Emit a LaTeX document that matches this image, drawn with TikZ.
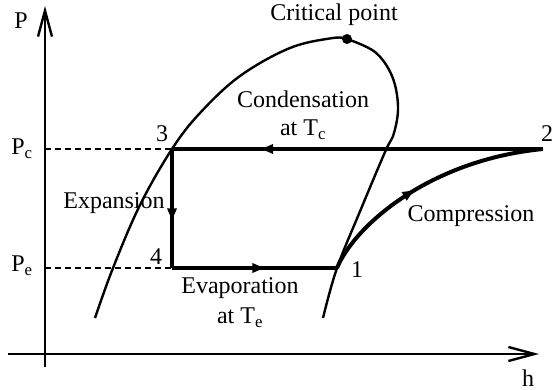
\documentclass[tikz,border=0pt]{standalone}
\usepackage{fontspec}
\setmainfont{Liberation Serif}
\usetikzlibrary{arrows.meta,decorations.markings}
\begin{document}
\begin{tikzpicture}[x=1pt,y=-1pt,
  lbl/.style={font=\fontsize{24}{26}\selectfont, inner sep=0pt},
  axis/.style={line width=2.4pt, -{Straight Barb[length=26pt,width=14pt,line width=2.4pt]}},
  dome/.style={line width=2.4pt},
  cyc/.style={line width=4pt},
  midarrow/.style={postaction={decorate,decoration={markings,
      mark=at position #1 with {\arrow{Triangle[length=12pt,width=9pt]}}}}},
  guide/.style={line width=1.4pt, dash pattern=on 6pt off 4pt}]
\useasboundingbox (0,0) rectangle (552,390);
% axes
\coordinate (xs) at (8,354);
\coordinate (xe) at (539,354);
\coordinate (ys) at (45,367);
\coordinate (ye) at (45,6);
\draw[axis] (xs) -- (xe);
\draw[axis] (ys) -- (ye);
\node[lbl] (P) at (21,21) {P};
\node[lbl] (h) at (528,378) {h};
% cycle points
\coordinate (p1) at (337,268);
\coordinate (p2) at (543,149);
\coordinate (p3) at (172,149);
\coordinate (p4) at (172,268);
\coordinate (pc) at (45,149);
\coordinate (pe) at (45,268);
% dashed guides
\draw[guide] (pc) -- (p3);
\draw[guide] (pe) -- (p4);
\node[lbl] (Pc) at (22,149) {P\textsubscript{c}};
\node[lbl] (Pe) at (22,266) {P\textsubscript{e}};
% dome
\draw[dome] plot[smooth,tension=0.6] coordinates {(95,318) (113,268) (140,205) (172,149) (200,113) (240,76) (290,48) (333,38) (347,39)};
\draw[dome] plot[smooth,tension=0.6] coordinates {(347,39) (375,52) (392,76) (398,106) (394,133) (385,152) (361,209) (337,268) (323,318)};
\fill (347,39) circle (5pt);
\node[lbl] (cp) at (334,15) {Critical point};
% cycle
\draw[line width=3.4pt, midarrow=0.76] (p2) -- (p3);
\draw[line width=4.2pt] (338,149) -- (p3);
\draw[cyc, midarrow=0.6] (p3) -- (p4);
\draw[cyc, midarrow=0.56] (p4) -- (p1);
\draw[cyc, midarrow=0.45] (p1) .. controls (355,225) and (430,160) .. (p2);
% labels
\node[lbl] (n1) at (357,270) {1};
\node[lbl] (n2) at (547,134) {2};
\node[lbl] (n3) at (162,134) {3};
\node[lbl] (n4) at (156,257) {4};
\node[lbl] (cond) at (303,99) {Condensation};
\node[lbl] (condT) at (303,130) {at T\textsubscript{c}};
\node[lbl] (exp) at (114,203) {Expansion};
\node[lbl] (evap) at (240,288) {Evaporation};
\node[lbl] (evapT) at (240,318) {at T\textsubscript{e}};
\node[lbl] (comp) at (471,216) {Compression};
\end{tikzpicture}
\end{document}
